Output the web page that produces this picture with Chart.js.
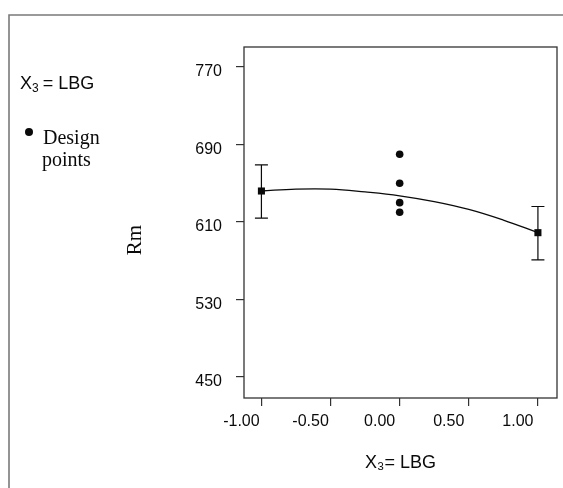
<!DOCTYPE html>
<html>
<head>
<meta charset="utf-8">
<script src="https://cdn.jsdelivr.net/npm/chart.js@4.4.1/dist/chart.umd.min.js"></script>
<style>
  html, body { margin: 0; padding: 0; background: #fff; }
  #wrap { position: relative; width: 563px; height: 488px; }
</style>
</head>
<body>
<div id="wrap"><canvas id="rmChart" width="563" height="488"></canvas></div>
<script>
// Coded level of X3 (LBG) against the Rm response
const xTicks = [-1, -0.5, 0, 0.5, 1];
const yTicks = [450, 530, 610, 690, 770];

// fitted response curve
const curveX = [-1, -0.75, -0.5, -0.25, 0, 0.25, 0.5, 0.75, 1];
const curveY = [642, 644, 644, 641, 637, 631, 623, 612, 599];

// means at the two axial levels, with their intervals
const meanX = [-1, 1];
const meanY = [642, 599];
const meanLow = [614, 571];
const meanHigh = [669, 626];

// centre-point replicates
const designX = [0, 0, 0, 0];
const designY = [680, 650, 630, 620];

const ink = '#0a0a0a';
const sans = '"Liberation Sans", Arial, sans-serif';
const serif = '"Liberation Serif", "Times New Roman", serif';

const toPoints = (xs, ys) => xs.map((x, i) => ({ x, y: ys[i] }));

// outer frame, plot box, notes on the left
const framePlugin = {
  id: 'framePlugin',
  beforeDraw(chart) {
    const { ctx, width, height } = chart;
    ctx.save();
    ctx.fillStyle = '#fff';
    ctx.fillRect(0, 0, width, height);
    ctx.strokeStyle = '#7a7a7a';
    ctx.lineWidth = 1.6;
    ctx.beginPath();
    ctx.moveTo(9, height);
    ctx.lineTo(9, 15);
    ctx.lineTo(width, 15);
    ctx.stroke();
    ctx.restore();
  },
  afterDraw(chart) {
    const { ctx, chartArea: a } = chart;
    ctx.save();
    ctx.strokeStyle = '#333';
    ctx.lineWidth = 1.3;
    ctx.strokeRect(a.left, a.top, a.right - a.left, a.bottom - a.top);

    ctx.fillStyle = ink;
    ctx.textBaseline = 'alphabetic';
    ctx.font = '18px ' + sans;
    ctx.fillText('X', 20, 89);
    const wX = ctx.measureText('X').width;
    ctx.font = '12px ' + sans;
    ctx.fillText('3', 20 + wX, 92);
    const w3 = ctx.measureText('3').width;
    ctx.font = '18px ' + sans;
    ctx.fillText('= LBG', 20 + wX + w3 + 4, 89);

    ctx.beginPath();
    ctx.arc(29, 132, 4, 0, Math.PI * 2);
    ctx.fill();
    ctx.font = '20px ' + serif;
    ctx.fillText('Design', 43, 144);
    ctx.fillText('points', 42, 166);

    ctx.translate(135, 240);
    ctx.rotate(-Math.PI / 2);
    ctx.textAlign = 'center';
    ctx.textBaseline = 'middle';
    ctx.font = '21px ' + serif;
    ctx.fillText('Rm', 0, 0);
    ctx.restore();
  }
};

// vertical interval bars with caps at the axial means
const errorBars = {
  id: 'errorBars',
  afterDatasetsDraw(chart) {
    const { ctx, scales: { x, y } } = chart;
    ctx.save();
    ctx.strokeStyle = ink;
    ctx.lineWidth = 1.2;
    meanX.forEach((v, i) => {
      const px = x.getPixelForValue(v);
      const lo = y.getPixelForValue(meanLow[i]);
      const hi = y.getPixelForValue(meanHigh[i]);
      ctx.beginPath();
      ctx.moveTo(px, lo);
      ctx.lineTo(px, hi);
      ctx.moveTo(px - 6.5, lo);
      ctx.lineTo(px + 6.5, lo);
      ctx.moveTo(px - 6.5, hi);
      ctx.lineTo(px + 6.5, hi);
      ctx.stroke();
    });
    ctx.restore();
  }
};

new Chart(document.getElementById('rmChart'), {
  type: 'scatter',
  data: {
    datasets: [
      {
        type: 'line',
        data: toPoints(curveX, curveY),
        borderColor: ink,
        borderWidth: 1.3,
        tension: 0.4,
        pointRadius: 0,
        fill: false
      },
      {
        data: toPoints(meanX, meanY),
        pointStyle: 'rect',
        pointRadius: 5,
        backgroundColor: ink,
        borderColor: ink,
        borderWidth: 0
      },
      {
        data: toPoints(designX, designY),
        pointStyle: 'circle',
        pointRadius: 3.8,
        backgroundColor: ink,
        borderColor: ink,
        borderWidth: 0
      }
    ]
  },
  options: {
    responsive: false,
    animation: false,
    devicePixelRatio: 1,
    layout: { padding: { top: 47, right: 6, left: 0, bottom: 0 } },
    plugins: {
      legend: { display: false },
      tooltip: { enabled: false }
    },
    scales: {
      x: {
        type: 'linear',
        min: -1.126,
        max: 1.138,
        afterBuildTicks: s => { s.ticks = xTicks.map(value => ({ value })); },
        afterFit: s => { s.height = 90; },
        border: { display: false },
        grid: { drawOnChartArea: false, tickLength: 8, color: '#333', lineWidth: 1.2 },
        ticks: {
          color: ink,
          font: { family: sans, size: 16 },
          padding: 6,
          labelOffset: -20,
          maxRotation: 0,
          callback: v => v.toFixed(2)
        },
        title: {
          display: true,
          text: 'X\u2083= LBG',
          color: ink,
          font: { family: sans, size: 18 },
          padding: { top: 0, bottom: 14 }
        }
      },
      y: {
        type: 'linear',
        min: 428.4,
        max: 790.6,
        afterBuildTicks: s => { s.ticks = yTicks.map(value => ({ value })); },
        afterFit: s => { s.width = 244; },
        border: { display: false },
        grid: { drawOnChartArea: false, tickLength: 8, color: '#333', lineWidth: 1.2 },
        ticks: {
          color: ink,
          font: { family: sans, size: 16 },
          padding: 14,
          labelOffset: 5
        }
      }
    }
  },
  plugins: [framePlugin, errorBars]
});
</script>
</body>
</html>
